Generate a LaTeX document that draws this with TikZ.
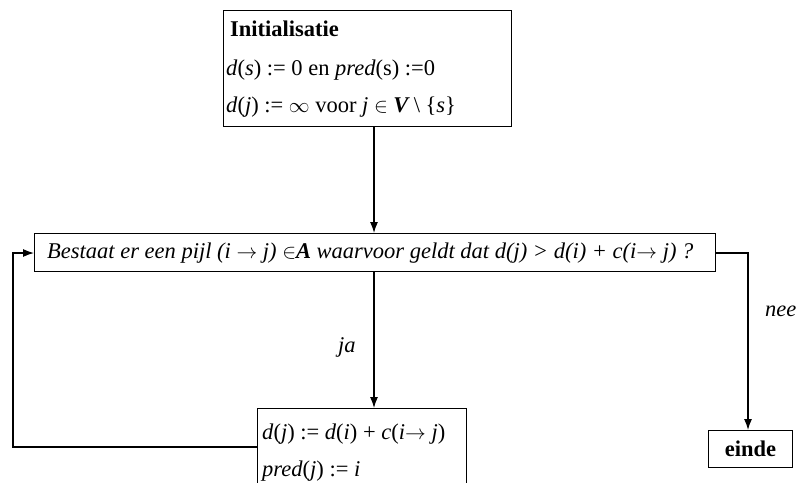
\documentclass[tikz,border=0pt]{standalone}
\usepackage{fontspec}
\setmainfont{Liberation Serif}
\usetikzlibrary{arrows.meta}
\tikzset{
  box/.style={draw, line width=1.2pt, rectangle, inner sep=0pt, anchor=north west},
  txt/.style={anchor=base west, inner sep=0pt, font=\fontsize{22.5}{26}\selectfont},
  arr/.style={line width=1.2pt, -{Latex[length=11pt,width=8pt]}}
}
\begin{document}
\begin{tikzpicture}[x=1pt,y=-1pt]
\useasboundingbox (0,0) rectangle (800,482);
\clip (0,0) rectangle (800,482);
% boxes
\node[box, minimum width=288pt, minimum height=116pt] (init) at (223,10) {};
\node[box, minimum width=681pt, minimum height=38pt] (test) at (34,233) {};
\node[box, minimum width=209pt, minimum height=90pt] (upd) at (257,408) {};
\node[box, minimum width=84pt, minimum height=37pt] (einde) at (708,430) {};
% texts
\node[txt] (t1) at (230,36) {\textbf{Initialisatie}};
\node[txt] (t2) at (226,75) {\textit{d}(\textit{s}) := 0 en \textit{pred}(s) :=0};
\node[txt] (t3) at (226,112) {\textit{d}(\textit{j}) := $\infty$ voor \textit{j} $\in$ \textbf{\textit{V}}\,\textbackslash\ \{\textit{s}\}};
\node[txt] (tt) at (47,258) {\textit{Bestaat er een pijl (i $\rightarrow$ j) $\in$\textbf{A} waarvoor geldt dat d(j) > d(i) + c(i$\rightarrow$ j) ?}};
\node[txt] (u1) at (262,439) {\textit{d}(\textit{j}) := \textit{d}(\textit{i}) + \textit{c}(\textit{i}$\rightarrow$ \textit{j})};
\node[txt] (u2) at (262,476) {\textit{pred}(\textit{j}) := \textit{i}};
\node[txt] (ja) at (338,352) {\textit{ja}};
\node[txt] (nee) at (765,316) {\textit{nee}};
\node[txt, anchor=center] (et) at (einde.center) {\textbf{einde}};
% connectors
\coordinate (a1) at (374,126);
\coordinate (a2) at (374,233);
\draw[arr] (init.south -| a1) -- (test.north -| a2);
\draw[arr] (test.south -| a2) -- (upd.north -| a2);
\coordinate (r1) at (748,253);
\draw[arr] (test.east |- r1) -- (r1) -- (einde.north -| r1);
\coordinate (l1) at (13,447);
\coordinate (l2) at (13,253);
\draw[arr] (upd.west |- l1) -- (l1) -- (l2) -- (test.west |- l2);
\end{tikzpicture}
\end{document}
